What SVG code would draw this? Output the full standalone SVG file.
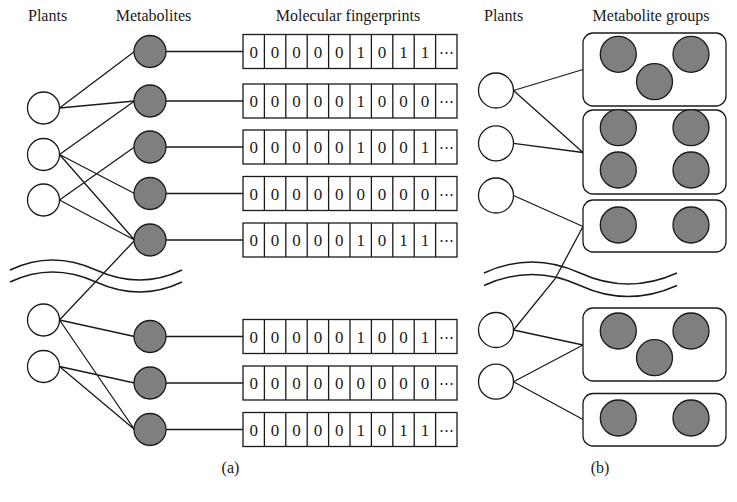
<svg xmlns="http://www.w3.org/2000/svg" width="737" height="502" viewBox="0 0 737 502">
<style>
text{font-family:"Liberation Serif","DejaVu Serif",serif;fill:#1a1a1a}
.h{font-size:16px}
.c{font-size:16px;text-anchor:middle}
.d{font-size:17px;text-anchor:middle}
.e{font-size:15px;text-anchor:middle;font-family:"DejaVu Serif","Liberation Serif",serif}
.p{fill:#fff;stroke:#1a1a1a;stroke-width:1.3}
.m{fill:#7f7f7f;stroke:#1a1a1a;stroke-width:1.3}
.ln{stroke:#1a1a1a;stroke-width:1.3;fill:none}
.bx{fill:#fff;stroke:#1a1a1a;stroke-width:1.3}
.grp{fill:#fff;stroke:#1a1a1a;stroke-width:1.3}
.w{fill:none;stroke:#1a1a1a;stroke-width:1.4}
</style>
<defs>
<g id="grid"><rect class="bx" x="243" y="0" width="214" height="34"/><path class="ln" d="M264.4,0v34M285.8,0v34M307.2,0v34M328.6,0v34M350,0v34M371.4,0v34M392.8,0v34M414.2,0v34M435.6,0v34"/></g>
</defs>

<!-- headers -->
<text class="h" x="28" y="21">Plants</text>
<text class="c" x="153.5" y="21">Metabolites</text>
<text class="c" x="348" y="21">Molecular fingerprints</text>
<text class="h" x="484" y="21">Plants</text>
<text class="c" x="651" y="21">Metabolite groups</text>
<text class="c" x="230.5" y="473">(a)</text>
<text class="c" x="600" y="473">(b)</text>

<!-- connectors -->
<g id="connectors">
<path class="ln" d="M59.5,108L134.5,51.5M59.5,108L134.5,101M59.5,154.5L134.5,101M59.5,154.5L134.5,193.5M59.5,154.5L134.5,240M59.5,200L134.5,147M59.5,200L134.5,240M59.5,320L135,240M59.5,320L134.5,336.5M59.5,320L134.5,429.5M59.5,366.5L134.5,383M59.5,366.5L134.5,429.5"/>
<path class="ln" d="M166,51.5H243M166,101H243M166,147H243M166,193.5H243M166,240H243M166,336.5H243M166,383H243M166,429.5H243"/>
<path class="ln" d="M513.5,90.5L583,69.5M513.5,90.5L583,152.5M513.5,143.3L583,152.5M513.5,195.5L583,226.5M513.5,330L555,279L583,226.5M513.5,330L583,345M513.5,381.7L583,345M513.5,381.7L583,419.5"/>
</g>

<!-- break marks -->
<g id="break-a">
<path class="w" d="M10,270Q52,250 96,270T182,270"/>
<path class="w" d="M10,282Q52,262 96,282T182,282"/>
</g>
<g id="break-b">
<path class="w" d="M484,273Q532,251 580,273T677,273"/>
<path class="w" d="M484,285.5Q532,263.5 580,285.5T677,285.5"/>
</g>

<!-- panel a plants -->
<g id="pa1"><circle class="p" cx="43.5" cy="108" r="16"/></g>
<g id="pa2"><circle class="p" cx="43.5" cy="154.5" r="16"/></g>
<g id="pa3"><circle class="p" cx="43.5" cy="200" r="16"/></g>
<g id="pa4"><circle class="p" cx="43.5" cy="320" r="16"/></g>
<g id="pa5"><circle class="p" cx="43.5" cy="366.5" r="16"/></g>

<!-- panel a metabolites -->
<g id="ma1"><circle class="m" cx="150" cy="51.5" r="16"/></g>
<g id="ma2"><circle class="m" cx="150" cy="101" r="16"/></g>
<g id="ma3"><circle class="m" cx="150" cy="147" r="16"/></g>
<g id="ma4"><circle class="m" cx="150" cy="193.5" r="16"/></g>
<g id="ma5"><circle class="m" cx="150" cy="240" r="16"/></g>
<g id="ma6"><circle class="m" cx="150" cy="336.5" r="16"/></g>
<g id="ma7"><circle class="m" cx="150" cy="383" r="16"/></g>
<g id="ma8"><circle class="m" cx="150" cy="429.5" r="16"/></g>

<!-- fingerprints -->
<g id="fp1" transform="translate(0,34.5)"><use href="#grid"/>
<text class="d" x="253.7" y="23">0</text><text class="d" x="275.1" y="23">0</text><text class="d" x="296.5" y="23">0</text><text class="d" x="317.9" y="23">0</text><text class="d" x="339.3" y="23">0</text><text class="d" x="360.7" y="23">1</text><text class="d" x="382.1" y="23">0</text><text class="d" x="403.5" y="23">1</text><text class="d" x="424.9" y="23">1</text><text class="e" x="446.3" y="22">⋯</text></g>
<g id="fp2" transform="translate(0,84)"><use href="#grid"/>
<text class="d" x="253.7" y="23">0</text><text class="d" x="275.1" y="23">0</text><text class="d" x="296.5" y="23">0</text><text class="d" x="317.9" y="23">0</text><text class="d" x="339.3" y="23">0</text><text class="d" x="360.7" y="23">1</text><text class="d" x="382.1" y="23">0</text><text class="d" x="403.5" y="23">0</text><text class="d" x="424.9" y="23">0</text><text class="e" x="446.3" y="22">⋯</text></g>
<g id="fp3" transform="translate(0,130)"><use href="#grid"/>
<text class="d" x="253.7" y="23">0</text><text class="d" x="275.1" y="23">0</text><text class="d" x="296.5" y="23">0</text><text class="d" x="317.9" y="23">0</text><text class="d" x="339.3" y="23">0</text><text class="d" x="360.7" y="23">1</text><text class="d" x="382.1" y="23">0</text><text class="d" x="403.5" y="23">0</text><text class="d" x="424.9" y="23">1</text><text class="e" x="446.3" y="22">⋯</text></g>
<g id="fp4" transform="translate(0,176.5)"><use href="#grid"/>
<text class="d" x="253.7" y="23">0</text><text class="d" x="275.1" y="23">0</text><text class="d" x="296.5" y="23">0</text><text class="d" x="317.9" y="23">0</text><text class="d" x="339.3" y="23">0</text><text class="d" x="360.7" y="23">0</text><text class="d" x="382.1" y="23">0</text><text class="d" x="403.5" y="23">0</text><text class="d" x="424.9" y="23">0</text><text class="e" x="446.3" y="22">⋯</text></g>
<g id="fp5" transform="translate(0,223)"><use href="#grid"/>
<text class="d" x="253.7" y="23">0</text><text class="d" x="275.1" y="23">0</text><text class="d" x="296.5" y="23">0</text><text class="d" x="317.9" y="23">0</text><text class="d" x="339.3" y="23">0</text><text class="d" x="360.7" y="23">1</text><text class="d" x="382.1" y="23">0</text><text class="d" x="403.5" y="23">1</text><text class="d" x="424.9" y="23">1</text><text class="e" x="446.3" y="22">⋯</text></g>
<g id="fp6" transform="translate(0,319.5)"><use href="#grid"/>
<text class="d" x="253.7" y="23">0</text><text class="d" x="275.1" y="23">0</text><text class="d" x="296.5" y="23">0</text><text class="d" x="317.9" y="23">0</text><text class="d" x="339.3" y="23">0</text><text class="d" x="360.7" y="23">1</text><text class="d" x="382.1" y="23">0</text><text class="d" x="403.5" y="23">0</text><text class="d" x="424.9" y="23">1</text><text class="e" x="446.3" y="22">⋯</text></g>
<g id="fp7" transform="translate(0,366)"><use href="#grid"/>
<text class="d" x="253.7" y="23">0</text><text class="d" x="275.1" y="23">0</text><text class="d" x="296.5" y="23">0</text><text class="d" x="317.9" y="23">0</text><text class="d" x="339.3" y="23">0</text><text class="d" x="360.7" y="23">0</text><text class="d" x="382.1" y="23">0</text><text class="d" x="403.5" y="23">0</text><text class="d" x="424.9" y="23">0</text><text class="e" x="446.3" y="22">⋯</text></g>
<g id="fp8" transform="translate(0,412.5)"><use href="#grid"/>
<text class="d" x="253.7" y="23">0</text><text class="d" x="275.1" y="23">0</text><text class="d" x="296.5" y="23">0</text><text class="d" x="317.9" y="23">0</text><text class="d" x="339.3" y="23">0</text><text class="d" x="360.7" y="23">1</text><text class="d" x="382.1" y="23">0</text><text class="d" x="403.5" y="23">1</text><text class="d" x="424.9" y="23">1</text><text class="e" x="446.3" y="22">⋯</text></g>

<!-- panel b plants -->
<g id="pb1"><circle class="p" cx="496" cy="90.5" r="17.5"/></g>
<g id="pb2"><circle class="p" cx="496" cy="143.3" r="17.5"/></g>
<g id="pb3"><circle class="p" cx="496" cy="195.5" r="17.5"/></g>
<g id="pb4"><circle class="p" cx="496" cy="330" r="17.5"/></g>
<g id="pb5"><circle class="p" cx="496" cy="381.7" r="17.5"/></g>

<!-- panel b groups -->
<g id="g1"><rect class="grp" x="583" y="33" width="143" height="73" rx="10"/>
<circle class="m" cx="618.3" cy="54.3" r="18"/><circle class="m" cx="691" cy="54.3" r="18"/><circle class="m" cx="654.5" cy="81.7" r="18"/></g>
<g id="g2"><rect class="grp" x="583" y="110" width="143" height="84" rx="10"/>
<circle class="m" cx="618.3" cy="127.7" r="18"/><circle class="m" cx="691" cy="127.7" r="18"/><circle class="m" cx="618.3" cy="170" r="18"/><circle class="m" cx="691" cy="170" r="18"/></g>
<g id="g3"><rect class="grp" x="583" y="200" width="143" height="52" rx="10"/>
<circle class="m" cx="618.3" cy="225" r="18"/><circle class="m" cx="691" cy="225" r="18"/></g>
<g id="g4"><rect class="grp" x="583" y="308" width="143" height="73" rx="10"/>
<circle class="m" cx="618.3" cy="331" r="18"/><circle class="m" cx="691" cy="331" r="18"/><circle class="m" cx="654.5" cy="357.7" r="18"/></g>
<g id="g5"><rect class="grp" x="583" y="393.5" width="143" height="52.5" rx="10"/>
<circle class="m" cx="618.3" cy="418" r="18"/><circle class="m" cx="691" cy="418" r="18"/></g>
</svg>
